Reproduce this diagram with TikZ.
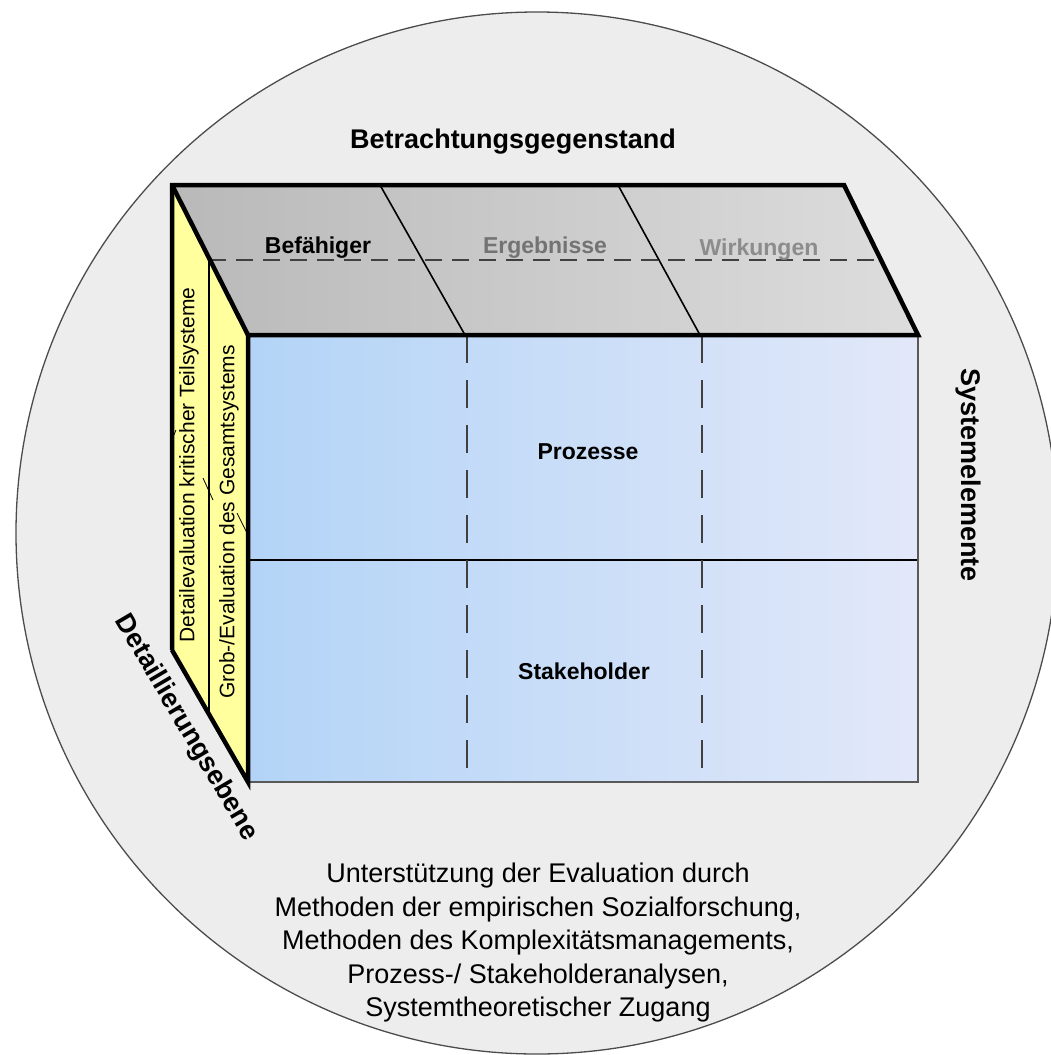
\documentclass[tikz,border=0pt]{standalone}
\usepackage{fontspec}
\setmainfont{Liberation Sans}
\usetikzlibrary{positioning,calc}
\definecolor{ringgray}{HTML}{EDEDED}
\definecolor{topdark}{HTML}{B9B9B9}
\definecolor{toplight}{HTML}{DDDDDD}
\definecolor{frontdark}{HTML}{B3D4F7}
\definecolor{frontlight}{HTML}{E2E8F9}
\definecolor{sideyellow}{HTML}{FFFF9E}

\begin{document}
\begin{tikzpicture}[x=1pt,y=-1pt,
   							edge/.style={black,line width=4.5pt,line join=miter},
   							divline/.style={black,line width=1.6pt},
   							topdash/.style={black!75,line width=1.3pt,dash pattern=on 17pt off 10pt},
   							frontdash/.style={black!75,line width=1.6pt,dash pattern=on 28pt off 17pt},
   							axis/.style={font=\bfseries\fontsize{27}{30}\selectfont,inner sep=0pt},
   							cell/.style={font=\bfseries\fontsize{23}{26}\selectfont,inner sep=0pt,anchor=base},
   							level/.style={font=\fontsize{21}{24}\selectfont,inner sep=0pt,rotate=90}]
   						\useasboundingbox (0,0) rectangle (1050,1055);
   						\filldraw [fill=ringgray,draw=black!70,line width=1.3pt] (537,533) circle (521);
   						\coordinate (bl) at (172,185);
   						\coordinate (br) at (844,185);
   						\coordinate (fl) at (248,335);
   						\coordinate (fr) at (918,335);
   						\coordinate (dl) at (248,782);
   						\coordinate (dr) at (918,782);
   						\coordinate (sl) at (172,650);
   						\shade [left color=topdark,right color=toplight] (bl) -- (br) -- (fr) -- (fl) -- cycle;
   						\shade [left color=frontdark,right color=frontlight] (fl) rectangle (dr);
   						\fill [sideyellow] (bl) -- (fl) -- (dl) -- (sl) -- cycle;
   						\draw [divline] (380,185) -- (465,335);
   						\draw [divline] (618,185) -- (700,335);
   						\draw [topdash] (209,260) -- (880,260);
   						\draw [divline,line width=1.3pt] (248,560) -- (918,560);
   						\draw [frontdash] (467,335) -- (467,782);
   						\draw [frontdash] (702,335) -- (702,782);
   						\draw [divline,line width=1.3pt] (209,258) -- (209,716);
   						\draw [black,line width=0.8pt] (173,437) -- (176,430) (203,478) -- (213,500) (237,513) -- (247,533);
   						\draw [black!65,line width=2pt] (dl) -- (dr) -- (fr);
   						\draw [edge] (sl) -- (bl) -- (br) -- (fr) -- (fl) -- (dl) -- (sl);
   						\draw [edge] (bl) -- (fl);
   						\path   (513,148) 	node 	(gegenstand) [axis,anchor=base] {Betrachtungsgegenstand}
   						        (968,475) 	node 	(elemente) [axis,rotate=-90] {Systemelemente}
   						        (186,728) 	node 	(ebene) [axis,rotate=-59.5] {Detaillierungsebene};
   						\path   (318,253) 	node 	(befaehiger) [cell] {Befähiger}
   						        (545,253) 	node 	(ergebnisse) [cell,black!55] {Ergebnisse}
   						        (759,255) 	node 	(wirkungen) [cell,black!45] {Wirkungen}
   						        (588,459) 	node 	(prozesse) [cell] {Prozesse}
   						        (584,679) 	node 	(stakeholder) [cell] {Stakeholder};
   						\path   (189,465) 	node 	(teilsysteme) [level] {Detailevaluation kritischer Teilsysteme}
   						        (229,522) 	node 	(gesamtsystem) [level] {Grob-/Evaluation des Gesamtsystems};
   							\node (methoden) [align=center,inner sep=0pt,font=\fontsize{27}{33.5}\selectfont] at (538,943) {Unterstützung der Evaluation durch\\Methoden der empirischen Sozialforschung,\\Methoden des Komplexitätsmanagements,\\Prozess-/ Stakeholderanalysen,\\Systemtheoretischer Zugang};
   							\end{tikzpicture}
\end{document}
